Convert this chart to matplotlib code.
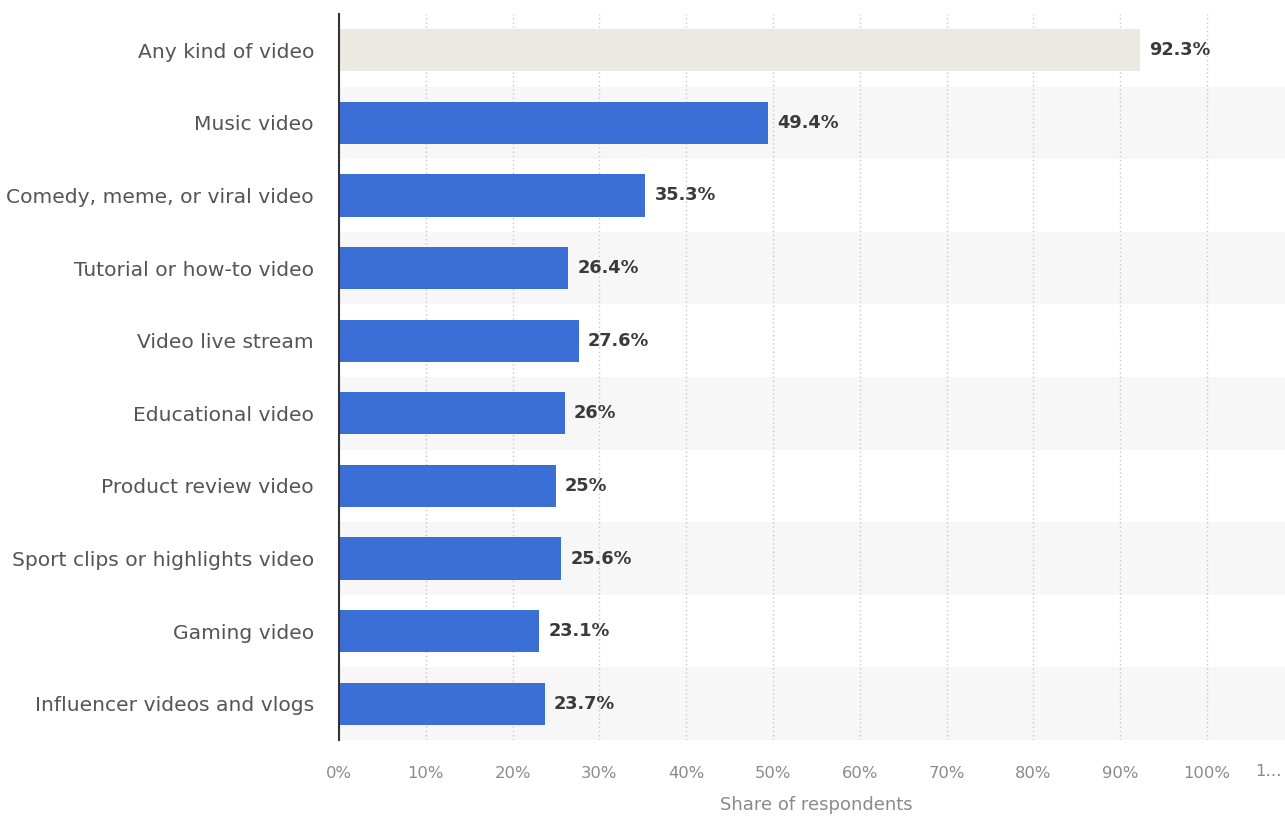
import matplotlib.pyplot as plt

categories = ["Any kind of video", "Music video", "Comedy, meme, or viral video",
              "Tutorial or how-to video", "Video live stream", "Educational video",
              "Product review video", "Sport clips or highlights video",
              "Gaming video", "Influencer videos and vlogs"]
shares = [92.3, 49.4, 35.3, 26.4, 27.6, 26.0, 25.0, 25.6, 23.1, 23.7]
value_labels = ["92.3%", "49.4%", "35.3%", "26.4%", "27.6%", "26%", "25%", "25.6%", "23.1%", "23.7%"]
ticks = [0, 10, 20, 30, 40, 50, 60, 70, 80, 90, 100]

plt.rcParams['font.family'] = ['DejaVu Sans']

fig = plt.figure(figsize=(12.85, 8.16), dpi=100)
ax = fig.add_axes([339/1285, 76/816, 946/1285, 726/816])

n = len(categories)
ypos = list(range(n))

# alternating row stripes
for i in ypos:
    if i % 2 == 1:
        ax.axhspan(i - 0.5, i + 0.5, color='#f7f7f7', zorder=0, lw=0)

colors = ['#ebe9e1'] + ['#3b6fd6'] * (n - 1)
ax.barh(ypos, shares, height=0.58, color=colors, zorder=2)

for y, v, lab in zip(ypos, shares, value_labels):
    ax.annotate(lab, (v, y), xytext=(6.5, 0), textcoords='offset points',
                va='center', ha='left', fontsize=12.8, fontweight='bold', color='#3a3a3a')

ax.set_xlim(0, 109)
ax.set_ylim(n - 0.5, -0.5)
ax.set_xticks(ticks)
ax.set_xticklabels([f"{t}%" for t in ticks])
ax.set_yticks(ypos)
ax.set_yticklabels(categories)

ax.grid(axis='x', linestyle=(0, (1, 2)), color='#c8c8c8', lw=1, zorder=1)
ax.set_axisbelow(True)
for s in ['top', 'right', 'bottom']:
    ax.spines[s].set_visible(False)
ax.spines['left'].set_color('#333333')
ax.spines['left'].set_linewidth(1.5)
ax.spines['left'].set_zorder(3)

ax.tick_params(axis='y', length=0, pad=18, labelsize=14.6, labelcolor='#555555')
ax.tick_params(axis='x', length=0, pad=19, labelsize=11.8, labelcolor='#8a8a8a')

fig.text(1255/1285, 1 - 772/816, "1…", ha='left', va='center',
         fontsize=11.8, color='#8a8a8a')
fig.text(816/1285, 1 - 805/816, "Share of respondents", ha='center', va='center',
         fontsize=13, color='#8a8a8a')

fig.savefig("out.png", dpi=100, facecolor='white')
